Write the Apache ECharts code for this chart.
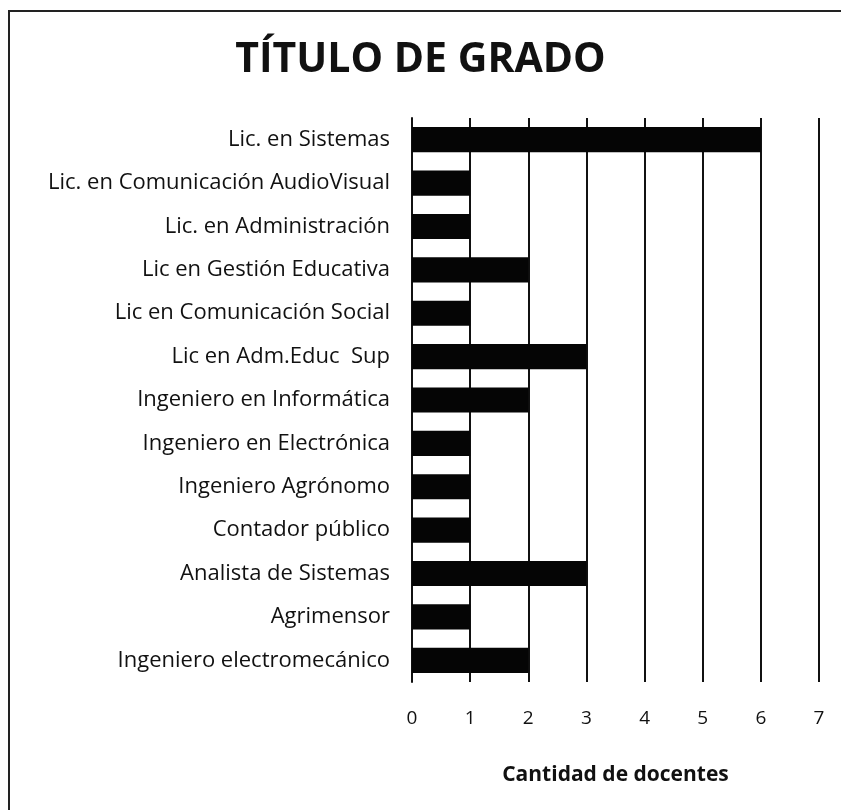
<!DOCTYPE html>
<html>
<head>
<meta charset="utf-8">
<title>Título de grado</title>
<script src="https://cdn.jsdelivr.net/npm/echarts@6/dist/echarts.min.js"></script>
<style>
  html, body { margin: 0; padding: 0; background: #fff; }
  #chart { width: 841px; height: 810px; }
  #frame {
    position: absolute; left: 8px; top: 10px; right: 0; bottom: 0;
    border-left: 2px solid #222; border-top: 2px solid #222;
    pointer-events: none;
  }
</style>
</head>
<body>
<div id="chart"></div>
<div id="frame"></div>
<script>
// titulos de grado de los docentes
const titulos = [
  "Lic. en Sistemas",
  "Lic. en Comunicación AudioVisual",
  "Lic. en Administración",
  "Lic en Gestión Educativa",
  "Lic en Comunicación Social",
  "Lic en Adm.Educ  Sup",
  "Ingeniero en Informática",
  "Ingeniero en Electrónica",
  "Ingeniero Agrónomo",
  "Contador público",
  "Analista de Sistemas",
  "Agrimensor",
  "Ingeniero electromecánico",
];
const cantidad = [6, 1, 1, 2, 1, 3, 2, 1, 1, 1, 3, 1, 2];
const ejeMin = 0;
const ejeMax = 7;

const chart = echarts.init(document.getElementById("chart"));

chart.setOption({
  backgroundColor: "#fff",
  animation: false,
  title: {
    text: "TÍTULO DE GRADO",
    left: "center",
    top: 35,
    textStyle: {
      fontFamily: "Open Sans",
      fontWeight: "bold",
      fontSize: 41,
      color: "#111",
    },
  },
  grid: {
    left: 412,
    right: 22,
    top: 118,
    bottom: 128,
    containLabel: false,
  },
  xAxis: {
    type: "value",
    min: ejeMin,
    max: ejeMax,
    interval: 1,
    name: "Cantidad de docentes",
    nameLocation: "middle",
    nameGap: 83,
    nameTextStyle: {
      fontFamily: "Open Sans",
      fontWeight: "bold",
      fontSize: 21,
      color: "#111",
    },
    axisLine: { show: false },
    axisTick: { show: false },
    axisLabel: {
      margin: 27,
      fontFamily: "Open Sans",
      fontSize: 19,
      color: "#111",
    },
    splitLine: {
      show: true,
      lineStyle: { color: "#111", width: 2 },
    },
  },
  yAxis: {
    type: "category",
    data: titulos,
    inverse: true,
    axisLine: { show: true, lineStyle: { color: "#111", width: 2 } },
    axisTick: { show: false },
    axisLabel: {
      margin: 22,
      fontFamily: "Open Sans",
      fontSize: 22,
      color: "#111",
    },
  },
  series: [
    {
      type: "bar",
      data: cantidad,
      barCategoryGap: "42%",
      itemStyle: { color: "#050505" },
    },
  ],
});
</script>
</body>
</html>
